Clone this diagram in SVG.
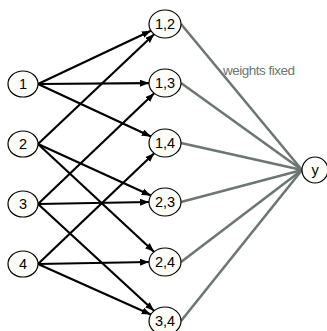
<svg xmlns="http://www.w3.org/2000/svg" width="327" height="331" viewBox="0 0 327 331">
<style>
.node ellipse{fill:#fdfdf8;stroke:#000;stroke-width:1.2}
.node text{font-family:"Liberation Sans",Arial,sans-serif;font-size:14.5px;fill:#000;text-anchor:middle}
.e{stroke:#000;stroke-width:2.2;fill:none;marker-end:url(#ah)}
.g{stroke:#6c7673;stroke-width:2.6;fill:none}
.lbl{font-family:"Liberation Sans",Arial,sans-serif;font-size:13.5px;fill:#6c7673;letter-spacing:-0.5px}
</style>
<defs>
<marker id="ah" markerUnits="userSpaceOnUse" markerWidth="10" markerHeight="8" refX="9" refY="3.5" orient="auto">
<path d="M0,0 L9,3.5 L0,7 z" fill="#000"/>
</marker>
</defs>
<g id="connectors">
<line class="g" x1="181" y1="24" x2="302" y2="170"/>
<line class="g" x1="181" y1="83" x2="302" y2="170"/>
<line class="g" x1="181" y1="143" x2="302" y2="170"/>
<line class="g" x1="181" y1="202" x2="302" y2="170"/>
<line class="g" x1="181" y1="262" x2="302" y2="170"/>
<line class="g" x1="181" y1="321" x2="302" y2="170"/>
<line class="e" x1="38" y1="84" x2="150.9" y2="30.7"/>
<line class="e" x1="38" y1="84" x2="149" y2="83.1"/>
<line class="e" x1="38" y1="84" x2="150.9" y2="136.4"/>
<line class="e" x1="38" y1="144" x2="154.1" y2="34.3"/>
<line class="e" x1="38" y1="144" x2="150.8" y2="195.5"/>
<line class="e" x1="38" y1="144" x2="154" y2="251.8"/>
<line class="e" x1="38" y1="204" x2="154.2" y2="93.3"/>
<line class="e" x1="38" y1="204" x2="149" y2="202"/>
<line class="e" x1="38" y1="204" x2="154" y2="310.8"/>
<line class="e" x1="38" y1="264" x2="154.2" y2="153.3"/>
<line class="e" x1="38" y1="264" x2="149" y2="262"/>
<line class="e" x1="38" y1="264" x2="150.8" y2="314.6"/>
<text class="lbl" x="223" y="75">weights fixed</text>
</g>
<g id="n1" class="node"><ellipse cx="23" cy="84" rx="15" ry="13"/><text x="23" y="89">1</text></g>
<g id="n2" class="node"><ellipse cx="23" cy="144" rx="15" ry="13"/><text x="23" y="149">2</text></g>
<g id="n3" class="node"><ellipse cx="23" cy="204" rx="15" ry="13"/><text x="23" y="209">3</text></g>
<g id="n4" class="node"><ellipse cx="23" cy="264" rx="15" ry="13"/><text x="23" y="269">4</text></g>
<g id="n12" class="node"><ellipse cx="165" cy="24" rx="16" ry="14"/><text x="165" y="29">1,2</text></g>
<g id="n13" class="node"><ellipse cx="165" cy="83" rx="16" ry="14"/><text x="165" y="88">1,3</text></g>
<g id="n14" class="node"><ellipse cx="165" cy="143" rx="16" ry="14"/><text x="165" y="148">1,4</text></g>
<g id="n23" class="node"><ellipse cx="165" cy="202" rx="16" ry="14"/><text x="165" y="207">2,3</text></g>
<g id="n24" class="node"><ellipse cx="165" cy="262" rx="16" ry="14"/><text x="165" y="267">2,4</text></g>
<g id="n34" class="node"><ellipse cx="165" cy="321" rx="16" ry="14"/><text x="165" y="326">3,4</text></g>
<g id="ny" class="node"><ellipse cx="315" cy="170" rx="13" ry="13"/><text x="315" y="175">y</text></g>
</svg>
